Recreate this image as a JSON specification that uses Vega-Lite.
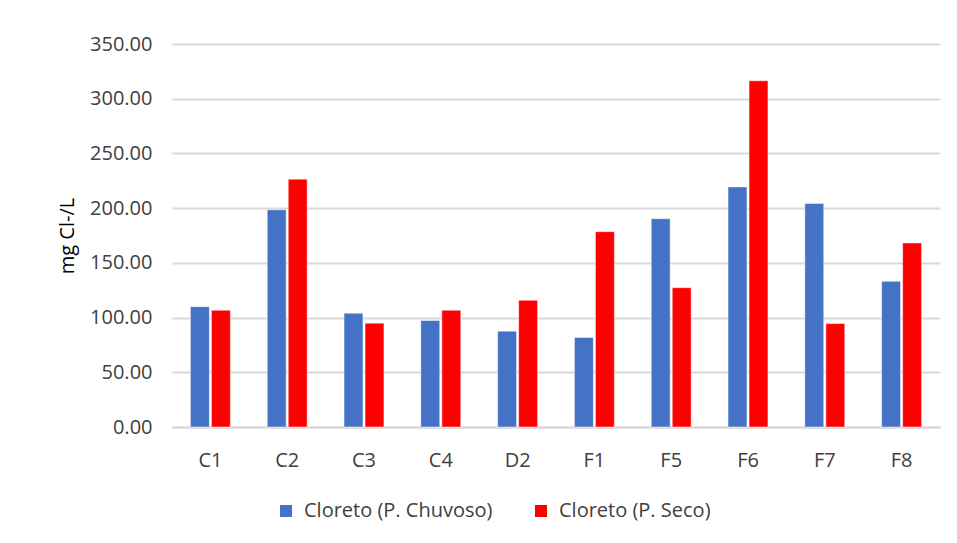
{
  "$schema": "https://vega.github.io/schema/vega-lite/v6.json",
  "autosize": "none",
  "width": 768,
  "height": 383,
  "padding": {"left": 172, "top": 44, "right": 17, "bottom": 116},
  "background": "white",
  "config": {
    "font": "Open Sans",
    "view": {"stroke": null},
    "axis": {"labelFont": "Open Sans", "titleFont": "Open Sans"}
  },
  "data": {
    "values": [
      {"site": "C1", "serie": "Cloreto (P. Chuvoso)", "value": 110.0},
      {"site": "C1", "serie": "Cloreto (P. Seco)", "value": 106.7},
      {"site": "C2", "serie": "Cloreto (P. Chuvoso)", "value": 198.5},
      {"site": "C2", "serie": "Cloreto (P. Seco)", "value": 226.5},
      {"site": "C3", "serie": "Cloreto (P. Chuvoso)", "value": 104.0},
      {"site": "C3", "serie": "Cloreto (P. Seco)", "value": 94.9},
      {"site": "C4", "serie": "Cloreto (P. Chuvoso)", "value": 97.3},
      {"site": "C4", "serie": "Cloreto (P. Seco)", "value": 106.7},
      {"site": "D2", "serie": "Cloreto (P. Chuvoso)", "value": 87.6},
      {"site": "D2", "serie": "Cloreto (P. Seco)", "value": 115.8},
      {"site": "F1", "serie": "Cloreto (P. Chuvoso)", "value": 81.8},
      {"site": "F1", "serie": "Cloreto (P. Seco)", "value": 178.5},
      {"site": "F5", "serie": "Cloreto (P. Chuvoso)", "value": 190.3},
      {"site": "F5", "serie": "Cloreto (P. Seco)", "value": 127.3},
      {"site": "F6", "serie": "Cloreto (P. Chuvoso)", "value": 219.4},
      {"site": "F6", "serie": "Cloreto (P. Seco)", "value": 316.4},
      {"site": "F7", "serie": "Cloreto (P. Chuvoso)", "value": 204.3},
      {"site": "F7", "serie": "Cloreto (P. Seco)", "value": 94.5},
      {"site": "F8", "serie": "Cloreto (P. Chuvoso)", "value": 133.1},
      {"site": "F8", "serie": "Cloreto (P. Seco)", "value": 168.2}
    ]
  },
  "mark": {"type": "bar", "stroke": "white", "strokeWidth": 0.8, "strokeOpacity": 0.6},
  "encoding": {
    "x": {
      "field": "site",
      "type": "nominal",
      "sort": null,
      "scale": {"paddingInner": 0.48, "paddingOuter": 0.24},
      "axis": {
        "title": null,
        "labelAngle": 0,
        "labelFontSize": 20,
        "labelColor": "#404040",
        "labelPadding": 23,
        "ticks": false,
        "domainColor": "#d9d9d9",
        "domainWidth": 2
      }
    },
    "xOffset": {"field": "serie", "type": "nominal", "scale": {"paddingInner": 0.1}},
    "y": {
      "field": "value",
      "type": "quantitative",
      "scale": {"domain": [0, 350], "nice": false},
      "axis": {
        "title": "mg Cl-/L",
        "titleFontSize": 20,
        "titleFontWeight": "normal",
        "titleColor": "#000000",
        "titlePadding": 12,
        "values": [0, 50, 100, 150, 200, 250, 300, 350],
        "format": ".2f",
        "labelFontSize": 20,
        "labelColor": "#404040",
        "labelPadding": 20,
        "ticks": false,
        "domain": false,
        "gridColor": "#d9d9d9",
        "gridWidth": 2
      }
    },
    "color": {
      "field": "serie",
      "type": "nominal",
      "scale": {"domain": ["Cloreto (P. Chuvoso)", "Cloreto (P. Seco)"], "range": ["#4472C4", "#FF0000"]},
      "legend": {
        "title": null,
        "orient": "none",
        "direction": "horizontal",
        "legendX": 104,
        "legendY": 457,
        "padding": 0,
        "symbolType": "square",
        "symbolSize": 144,
        "symbolStrokeWidth": 0,
        "labelFontSize": 20,
        "labelColor": "#404040",
        "labelOffset": 8,
        "columnPadding": 38,
        "labelLimit": 400
      }
    }
  }
}
